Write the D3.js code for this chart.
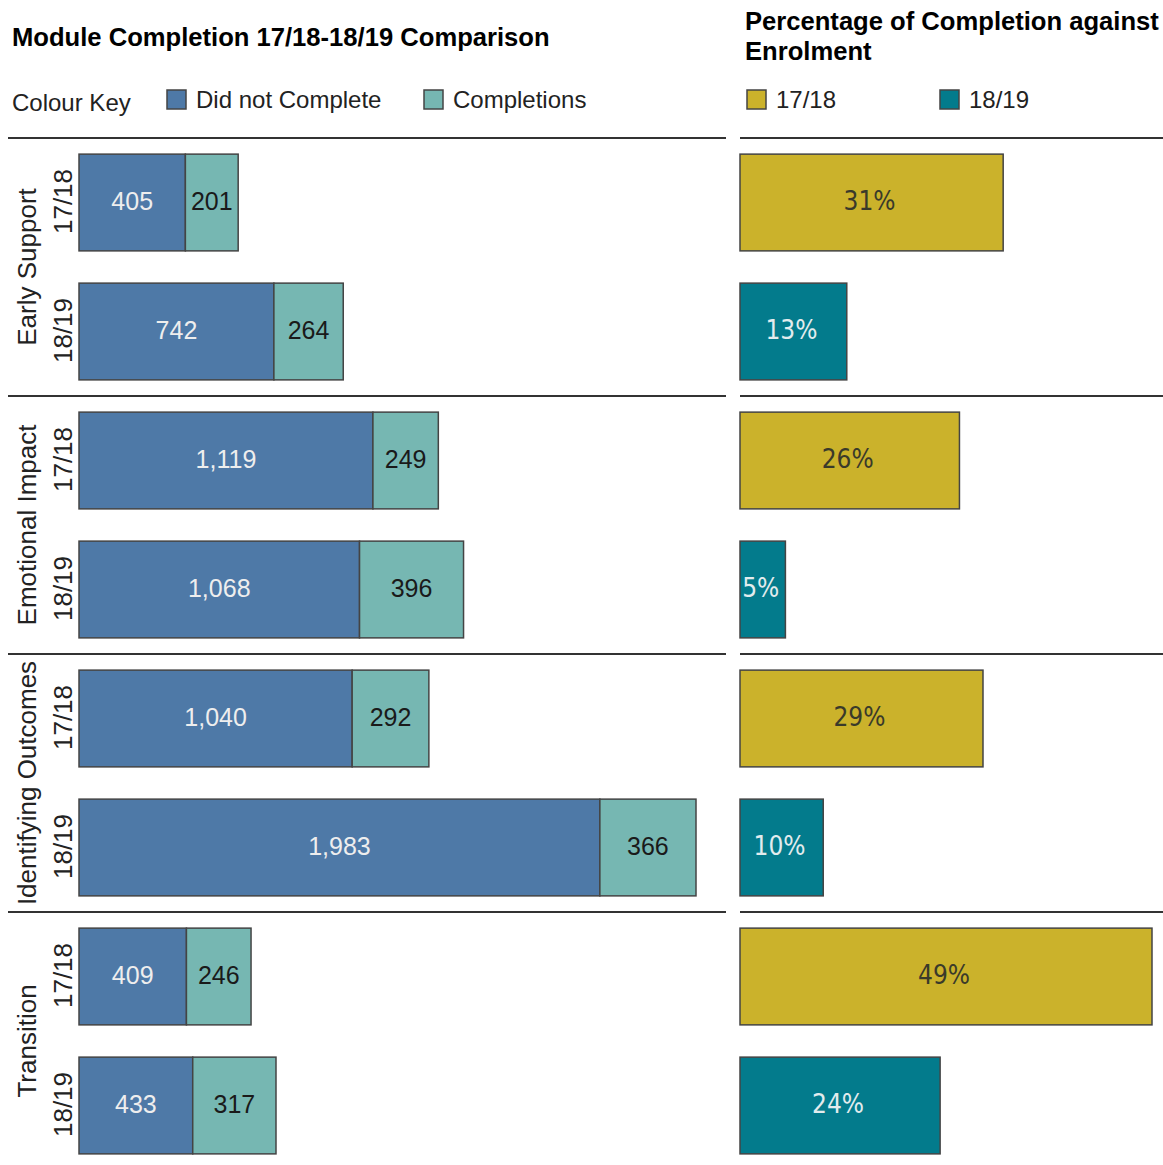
<!DOCTYPE html>
<html>
<head>
<meta charset="utf-8">
<script src="https://cdn.jsdelivr.net/npm/d3@7"></script>
<style>
  body { margin: 0; background: #fff; }
  svg { font-family: "Liberation Sans", Arial, sans-serif; }
</style>
</head>
<body>
<div id="chart"></div>
<script>
// data
const modules = ["Early Support", "Emotional Impact", "Identifying Outcomes", "Transition"];
const years = ["17/18", "18/19"];
const didNotComplete = [405, 742, 1119, 1068, 1040, 1983, 409, 433];
const completions = [201, 264, 249, 396, 292, 366, 246, 317];
// bar lengths, labels show them rounded
const pctCompletion = [31.3, 12.7, 26.1, 5.4, 28.9, 9.9, 49, 23.8];

const width = 1163, height = 1165;
const topY = 138, rowStep = 129;

const svg = d3.select("#chart").append("svg")
    .attr("width", width)
    .attr("height", height);

// one row per module/year pair
let rows = [];
modules.forEach(function(m, i) {
    years.forEach(function(yr, j) {
        let k = i * years.length + j;
        rows.push({key: m + "|" + yr, module: m, year: yr, dnc: didNotComplete[k], comp: completions[k], pct: pctCompletion[k]});
    });
});

let y = d3.scaleBand()
    .domain(rows.map(d => d.key))
    .range([topY, topY + rowStep * rows.length])
    .paddingInner(0.25)
    .paddingOuter(0.125);

let yGroup = d3.scaleBand()
    .domain(modules)
    .range([topY, topY + rowStep * rows.length]);

let x = d3.scaleLinear()
    .domain([0, d3.max(rows, d => d.dnc + d.comp)])
    .range([79, 696]);

let xp = d3.scaleLinear()
    .domain([0, d3.max(pctCompletion)])
    .range([740, 1152]);

const blue = "#4e79a7", green = "#76b7b2", gold = "#cbb22b", teal = "#037b8c";
const edge = "#444";

// titles
svg.append("text")
    .attr("x", 12).attr("y", 46)
    .style("font-weight", "bold").style("font-size", "25.6px")
    .text("Module Completion 17/18-18/19 Comparison");

let rt = svg.append("text")
    .attr("x", 745).attr("y", 30)
    .style("font-weight", "bold").style("font-size", "25.6px");
rt.append("tspan").attr("x", 745).text("Percentage of Completion against");
rt.append("tspan").attr("x", 745).attr("dy", 30).text("Enrolment");

// legends
svg.append("text").attr("x", 12).attr("y", 111).style("font-size", "24px").attr("fill", "#222").text("Colour Key");

let legendItems = [
    {x: 167, color: blue, label: "Did not Complete"},
    {x: 424, color: green, label: "Completions"},
    {x: 747, color: gold, label: "17/18"},
    {x: 940, color: teal, label: "18/19"}
];
let lg = svg.selectAll(".legend").data(legendItems).enter().append("g").attr("class", "legend");
lg.append("rect")
    .attr("x", d => d.x).attr("y", 90)
    .attr("width", 19).attr("height", 19)
    .attr("fill", d => d.color)
    .attr("stroke", edge).attr("stroke-width", 1.5);
lg.append("text")
    .attr("x", d => d.x + 29).attr("y", 108)
    .style("font-size", "24px").attr("fill", "#222")
    .text(d => d.label);

// separators
let seps = modules.map(m => yGroup(m));
svg.selectAll(".sepL").data(seps).enter().append("line")
    .attr("x1", 8).attr("x2", 726)
    .attr("y1", d => d).attr("y2", d => d)
    .attr("stroke", "#333").attr("stroke-width", 2);
svg.selectAll(".sepR").data(seps).enter().append("line")
    .attr("x1", 740).attr("x2", 1163)
    .attr("y1", d => d).attr("y2", d => d)
    .attr("stroke", "#333").attr("stroke-width", 2);

// group labels
svg.selectAll(".grp").data(modules).enter().append("text")
    .attr("transform", d => `translate(36, ${yGroup(d) + yGroup.bandwidth() / 2}) rotate(-90)`)
    .style("text-anchor", "middle").style("font-size", "26px").attr("fill", "#222")
    .text(d => d);

// year labels
svg.selectAll(".yr").data(rows).enter().append("text")
    .attr("transform", d => `translate(72, ${y(d.key) + y.bandwidth() / 2 - 1}) rotate(-90)`)
    .style("text-anchor", "middle").style("font-size", "26px").attr("fill", "#222")
    .text(d => d.year);

// stacked bars
svg.selectAll(".dnc").data(rows).enter().append("rect")
    .attr("x", x(0)).attr("y", d => y(d.key))
    .attr("width", d => x(d.dnc) - x(0)).attr("height", y.bandwidth())
    .attr("fill", blue).attr("stroke", edge).attr("stroke-width", 1.5);
svg.selectAll(".comp").data(rows).enter().append("rect")
    .attr("x", d => x(d.dnc)).attr("y", d => y(d.key))
    .attr("width", d => x(d.dnc + d.comp) - x(d.dnc)).attr("height", y.bandwidth())
    .attr("fill", green).attr("stroke", edge).attr("stroke-width", 1.5);

let fmt = d3.format(",");
svg.selectAll(".dncLbl").data(rows).enter().append("text")
    .attr("x", d => (x(0) + x(d.dnc)) / 2)
    .attr("y", d => y(d.key) + y.bandwidth() / 2).attr("dy", "0.3em")
    .style("text-anchor", "middle").style("font-size", "25px").attr("fill", "#eeeeee")
    .text(d => fmt(d.dnc));
svg.selectAll(".compLbl").data(rows).enter().append("text")
    .attr("x", d => (x(d.dnc) + x(d.dnc + d.comp)) / 2)
    .attr("y", d => y(d.key) + y.bandwidth() / 2).attr("dy", "0.3em")
    .style("text-anchor", "middle").style("font-size", "25px").attr("fill", "#1a1a1a")
    .text(d => fmt(d.comp));

// percentage bars
svg.selectAll(".pct").data(rows).enter().append("rect")
    .attr("x", xp(0)).attr("y", d => y(d.key))
    .attr("width", d => xp(d.pct) - xp(0)).attr("height", y.bandwidth())
    .attr("fill", d => d.year == "17/18" ? gold : teal)
    .attr("stroke", edge).attr("stroke-width", 1.5);
svg.selectAll(".pctLbl").data(rows).enter().append("text")
    .attr("x", d => (xp(0) + xp(d.pct)) / 2 - 2)
    .attr("y", d => y(d.key) + y.bandwidth() / 2).attr("dy", "0.3em")
    .style("text-anchor", "middle")
    .style("font-family", "'DejaVu Sans Condensed', 'DejaVu Sans', sans-serif")
    .style("font-size", "26px")
    .attr("fill", d => d.year == "17/18" ? "#3a3a2a" : "#e2ecee")
    .text(d => Math.round(d.pct) + "%");
</script>
</body>
</html>
